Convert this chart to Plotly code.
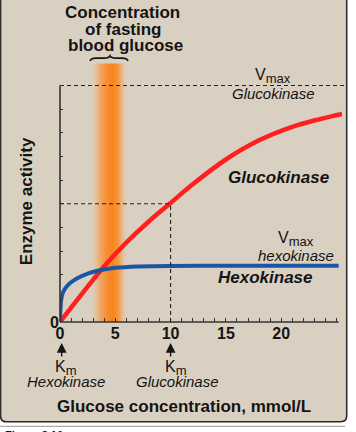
import plotly.graph_objects as go

# ---------------- data ----------------
# Glucokinase (red) : glucose concentration (mmol/L) -> enzyme activity
gk_glucose = [0, 2, 4, 6, 8, 10, 12, 15, 18, 21, 23.5, 25.5]
gk_activity = [0, 1.2, 2.36, 3.36, 4.24, 5.03, 5.82, 6.87, 7.68, 8.25, 8.58, 8.8]

# Hexokinase (blue)
hk_glucose = [0, 0.03, 0.08, 0.15, 0.3, 0.6, 1.0, 1.6, 2.5, 3.5, 5, 7, 10, 15, 25.2]
hk_activity = [0, 0.45, 0.8, 1.05, 1.28, 1.5, 1.68, 1.86, 2.05, 2.18, 2.29, 2.35, 2.37, 2.38, 2.38]

gk_vmax = 10
gk_km = 10
hk_km = 0.15
fasting_range = [2.9, 6.0]          # band of fasting blood glucose
x_tick_vals = [0, 5, 10, 15, 20]
x_tick_text = ["0", "5", "10", "15", "20"]
y_tick_vals = list(range(0, 11))
y_tick_text = ["0"] + [""] * 10

# ---------------- geometry helpers ----------------
W, H = 356, 432
L, R_EDGE, TOP, BOT = 60, 341.8, 62.5, 322
X_RANGE = [0, 25.5]
Y_RANGE = [0, 10.95]
PW, PH = R_EDGE - L, BOT - TOP


def px(x):
    return (x - L) / PW


def py(y):
    return (BOT - y) / PH


FONT = "Liberation Sans, Arial, Helvetica, sans-serif"
INK = "#141414"
BEIGE = "rgb(217,208,194)"

fig = go.Figure()

# fasting glucose band (horizontal gradient)
band_top = 10.93
fig.add_trace(go.Scatter(
    x=[fasting_range[0], fasting_range[1], fasting_range[1], fasting_range[0], fasting_range[0]],
    y=[0, 0, band_top, band_top, 0],
    mode="lines", fill="toself", line=dict(width=0),
    fillgradient=dict(type="horizontal", colorscale=[
        [0.0, BEIGE], [0.1, "rgb(228,196,160)"], [0.25, "rgb(240,166,98)"],
        [0.42, "rgb(246,142,52)"], [0.6, "rgb(247,132,30)"], [0.76, "rgb(245,150,62)"],
        [0.9, "rgb(230,190,150)"], [1.0, BEIGE]]),
    hoverinfo="skip", showlegend=False))

# curves
fig.add_trace(go.Scatter(x=gk_glucose, y=gk_activity, mode="lines",
                         line=dict(color="#FF1F1F", width=4.5, shape="spline", smoothing=1.0),
                         showlegend=False, hoverinfo="skip"))
fig.add_trace(go.Scatter(x=hk_glucose, y=hk_activity, mode="lines",
                         line=dict(color="#1B56A4", width=4, shape="spline", smoothing=0.6),
                         showlegend=False, hoverinfo="skip"))

shapes = []
# panel with rounded corners
x0, x1, y0, y1, r = 0.6, 346.5, -10, 422, 6
path = (f"M {px(x0)},{py(y0)} L {px(x1)},{py(y0)} "
        f"L {px(x1)},{py(y1 - r)} Q {px(x1)},{py(y1)} {px(x1 - r)},{py(y1)} "
        f"L {px(x0 + r)},{py(y1)} Q {px(x0)},{py(y1)} {px(x0)},{py(y1 - r)} Z")
shapes.append(dict(type="path", path=path, xref="paper", yref="paper",
                   fillcolor=BEIGE, line=dict(color="#2a2a2a", width=1.6), layer="below"))
# gray rule under the panel
shapes.append(dict(type="line", xref="paper", yref="paper", x0=px(0), x1=px(345),
                   y0=py(426.5), y1=py(426.5), line=dict(color="#aaaaaa", width=1.2)))
# axis lines
shapes.append(dict(type="line", xref="paper", yref="y", x0=0, x1=0, y0=0, y1=gk_vmax,
                   line=dict(color="#333333", width=1.6)))
shapes.append(dict(type="line", xref="x", yref="paper", x0=0, x1=25.2, y0=0, y1=0,
                   line=dict(color="#333333", width=1.6)))
# dashed guides
dash = dict(color="#222222", width=1.1, dash="4px,3px")
shapes.append(dict(type="line", xref="paper", yref="y", x0=0, x1=px(345),
                   y0=gk_vmax, y1=gk_vmax, line=dash))
shapes.append(dict(type="line", xref="x", yref="y", x0=0, x1=gk_km,
                   y0=gk_vmax / 2, y1=gk_vmax / 2, line=dash))
shapes.append(dict(type="line", xref="x", yref="y", x0=gk_km, x1=gk_km,
                   y0=0, y1=gk_vmax / 2, line=dash))
# curly brace above band
bp = [(90, 60.5), (91, 57.6), (96, 57.6), (104, 57.6), (109, 57.6), (110, 55.3),
      (111, 57.6), (116, 57.6), (122, 57.6), (127, 57.6), (128, 60.5)]
bpath = (f"M {px(bp[0][0])},{py(bp[0][1])} Q {px(bp[1][0])},{py(bp[1][1])} {px(bp[2][0])},{py(bp[2][1])} "
         f"L {px(bp[3][0])},{py(bp[3][1])} Q {px(bp[4][0])},{py(bp[4][1])} {px(bp[5][0])},{py(bp[5][1])} "
         f"Q {px(bp[6][0])},{py(bp[6][1])} {px(bp[7][0])},{py(bp[7][1])} "
         f"L {px(bp[8][0])},{py(bp[8][1])} Q {px(bp[9][0])},{py(bp[9][1])} {px(bp[10][0])},{py(bp[10][1])}")
shapes.append(dict(type="path", path=bpath, xref="paper", yref="paper",
                   line=dict(color=INK, width=1.6)))

ann = []


def txt(text, x, y, size, weight="normal", style="normal", angle=0, xanchor="center", yanchor="middle"):
    ann.append(dict(text=text, x=px(x), y=py(y), xref="paper", yref="paper",
                    showarrow=False, xanchor=xanchor, yanchor=yanchor, textangle=angle,
                    font=dict(family=FONT, size=size, color=INK, weight=weight, style=style)))


SUB = "<sub><span style='font-size:13px'>{}</span></sub>"

txt("Concentration", 122.5, 12, 17, "bold")
txt("of fasting", 123.5, 28.5, 17, "bold")
txt("blood glucose", 125, 45, 17, "bold")
txt("V" + SUB.format("max"), 273, 76, 16)
txt("Glucokinase", 273, 93, 15, style="italic")
txt("Glucokinase", 278, 177, 17, "bold", "italic")
txt("V" + SUB.format("max"), 296, 239, 16)
txt("hexokinase", 296, 255, 15, style="italic")
txt("Hexokinase", 265.5, 277, 17, "bold", "italic")
txt("Enzyme activity", 26, 201, 17, "bold", angle=-90)
txt("K" + SUB.format("m"), 66, 368, 16)
txt("Hexokinase", 66, 382, 15, style="italic")
txt("K" + SUB.format("m"), 176, 368, 16)
txt("Glucokinase", 177, 382, 15, style="italic")
txt("Glucose concentration, mmol/L", 184, 407, 17, "bold")
txt("Figure 8.10", 3, 427.5, 11, "bold", xanchor="left", yanchor="top")

# Km arrows
for kx in (hk_km, gk_km):
    ann.append(dict(text="", x=kx, y=py(343), xref="x", yref="paper", showarrow=True,
                    ax=0, ay=15, arrowhead=2, arrowsize=1.4, arrowwidth=1.4, arrowcolor=INK))

fig.update_layout(
    template="none",
    width=W, height=H, autosize=False,
    margin=dict(l=L, r=W - R_EDGE, t=TOP, b=H - BOT, pad=0),
    paper_bgcolor="white", plot_bgcolor="rgba(0,0,0,0)",
    shapes=shapes, annotations=ann, showlegend=False,
    xaxis=dict(range=X_RANGE, showgrid=False, zeroline=False, showline=False, automargin=False,
               tickmode="array", tickvals=x_tick_vals, ticktext=x_tick_text,
               ticks="inside", ticklen=4, tickwidth=1, tickcolor="#333333",
               minor=dict(tickmode="linear", tick0=0, dtick=1, ticks="inside", ticklen=4,
                          tickwidth=1, tickcolor="#333333", showgrid=False),
               tickfont=dict(family=FONT, size=16, color=INK, weight="bold")),
    yaxis=dict(range=Y_RANGE, showgrid=False, zeroline=False, showline=False, automargin=False,
               tickmode="array", tickvals=y_tick_vals, ticktext=y_tick_text,
               ticks="inside", ticklen=3, tickwidth=1, tickcolor="#333333",
               tickfont=dict(family=FONT, size=16, color=INK, weight="bold")),
)

fig.write_html("out.html", config={"displayModeBar": False},
               post_script="document.body.style.margin='0';document.body.style.overflow='hidden';")
